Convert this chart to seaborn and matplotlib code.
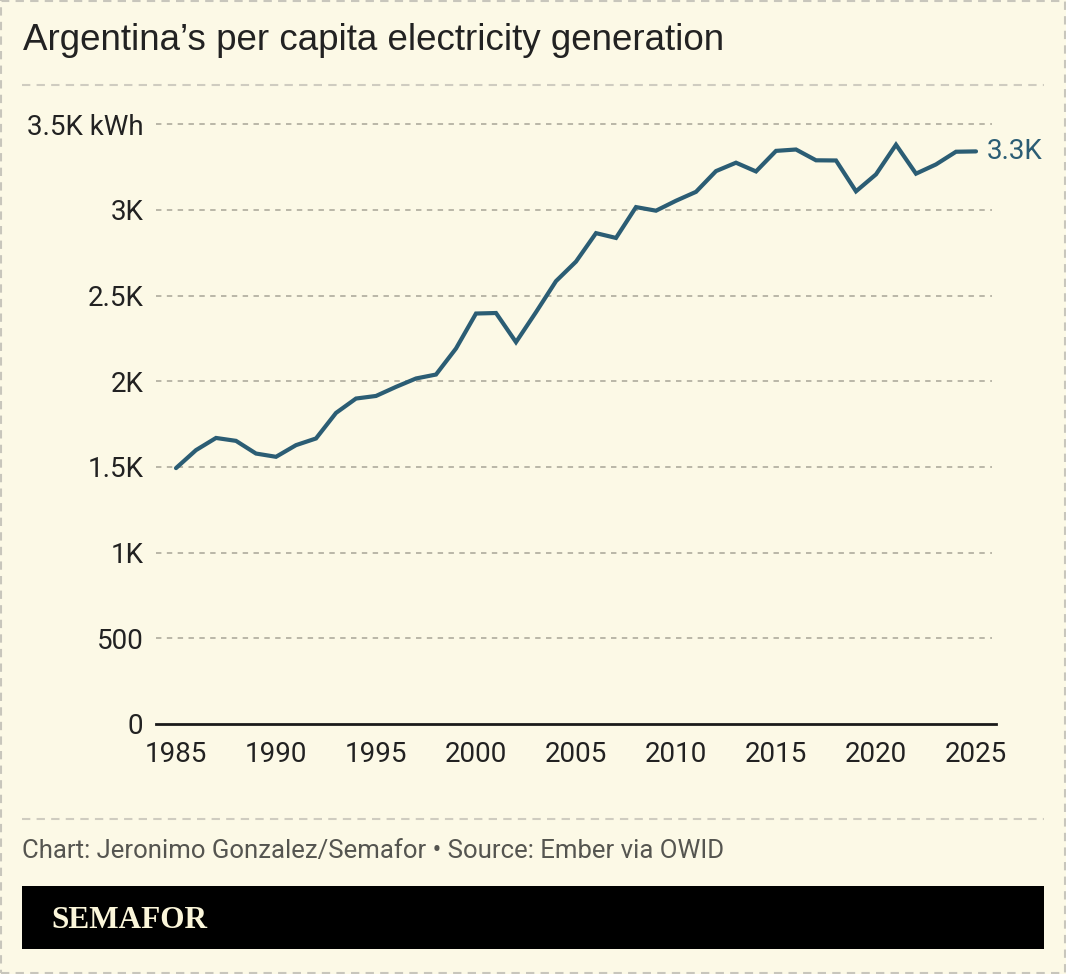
import matplotlib
matplotlib.use("Agg")
import matplotlib.pyplot as plt
import seaborn as sns
import pandas as pd
from matplotlib.patches import Rectangle
from matplotlib.lines import Line2D

# data
years = list(range(1985, 2026))
kwh_per_capita = [
    1493, 1598, 1669, 1652, 1578, 1559, 1627, 1666, 1815, 1899,
    1914, 1967, 2016, 2039, 2191, 2395, 2398, 2228, 2403, 2584,
    2698, 2864, 2836, 3016, 2995, 3053, 3105, 3226, 3275, 3224,
    3344, 3352, 3289, 3288, 3108, 3207, 3380, 3211, 3265, 3339,
    3341,
]
y_ticks = [0, 500, 1000, 1500, 2000, 2500, 3000, 3500]
y_tick_labels = ["0", "500", "1K", "1.5K", "2K", "2.5K", "3K", "3.5K kWh"]
x_ticks = [1985, 1990, 1995, 2000, 2005, 2010, 2015, 2020, 2025]
end_label = "3.3K"

title = "Argentina\u2019s per capita electricity generation"
credit = "Chart: Jeronimo Gonzalez/Semafor \u2022 Source: Ember via OWID"

BG = "#FCF9E6"
LINE = "#2B5D74"
GRID = "#B5B2A3"
TEXT = "#222222"

sns.set_theme(style="white")
plt.rcParams["font.family"] = ["Roboto", "DejaVu Sans"]

W, H = 1066, 974
fig = plt.figure(figsize=(W / 100, H / 100), dpi=100, facecolor=BG)

# axes placement in pixels
left_px, right_px = 156, 996
top_px, bottom_px = 107, 724
ax = fig.add_axes([left_px / W, 1 - bottom_px / H,
                   (right_px - left_px) / W, (bottom_px - top_px) / H])
ax.set_facecolor(BG)

df = pd.DataFrame({"year": years, "kwh": kwh_per_capita})
sns.lineplot(data=df, x="year", y="kwh", ax=ax, color=LINE, linewidth=3.0,
             solid_joinstyle="miter", solid_capstyle="round")

ax.set_xlim(1984, 2026)
ax.set_ylim(0, 3600)
ax.set_xlabel("")
ax.set_ylabel("")

ax.set_yticks(y_ticks)
ax.set_yticklabels(y_tick_labels)
ax.set_xticks(x_ticks)
ax.set_xticklabels([str(x) for x in x_ticks])
ax.tick_params(axis="y", length=0, pad=9, labelsize=20, labelcolor=TEXT)
ax.tick_params(axis="x", length=0, pad=12, labelsize=20, labelcolor=TEXT)

for v in y_ticks[1:]:
    ax.axhline(v, color=GRID, linewidth=1.3, linestyle=(0, (3, 3)), zorder=0,
               xmin=0, xmax=0.995)

for s in ["top", "right", "left"]:
    ax.spines[s].set_visible(False)
ax.spines["bottom"].set_color("#1a1a1a")
ax.spines["bottom"].set_linewidth(2)

ax.annotate(end_label, xy=(years[-1], kwh_per_capita[-1]), xytext=(8, 0),
            textcoords="offset points", va="center", ha="left",
            fontsize=20, color=LINE)

# title, separators, footer
fig.text(23 / W, 1 - 50 / H, title, fontsize=26.5, color=TEXT,
         family=["Liberation Sans", "DejaVu Sans"], va="baseline")

for ypx in (85, 819):
    fig.add_artist(Line2D([22 / W, 1044 / W], [1 - ypx / H, 1 - ypx / H],
                          color="#CFCCC0", linewidth=1.5, linestyle=(0, (4, 3))))

fig.text(22 / W, 1 - 858 / H, credit, fontsize=18.5, color="#555550",
         va="baseline")

fig.add_artist(Rectangle((22 / W, 1 - 949 / H), 1022 / W, 63 / H,
                         transform=fig.transFigure, facecolor="black",
                         edgecolor="none"))
fig.text(51 / W, 1 - 928 / H, "SEMAFOR", fontsize=22.5, color="#FBF6DA",
         family=["Liberation Serif", "DejaVu Serif"], fontweight="bold",
         va="baseline")

# dashed frame
fig.add_artist(Rectangle((1 / W, 1 / H), (W - 2) / W, (H - 2) / H,
                         transform=fig.transFigure, facecolor="none",
                         edgecolor="#C8C6BC", linewidth=1.5,
                         linestyle=(0, (4, 3))))

fig.savefig("out.png", dpi=100, facecolor=BG)
plt.close(fig)
